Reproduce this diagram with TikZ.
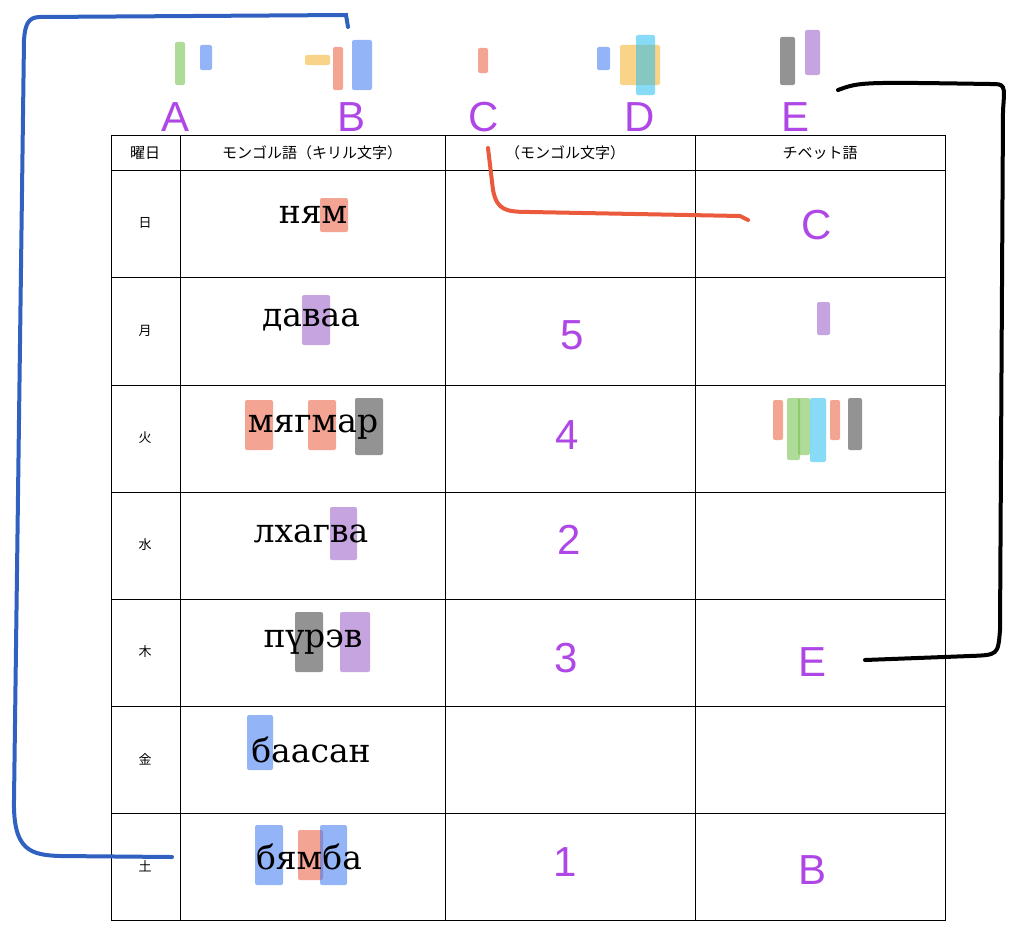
\documentclass[tikz,border=0pt]{standalone}
\usepackage{fontspec}
\setmainfont{DejaVu Serif}
\newfontfamily\jp{Noto Sans CJK JP}
\newfontfamily\hand{Liberation Sans}
\begin{document}
\begin{tikzpicture}[x=1pt,y=-1pt,
  hl/.style={opacity=0.55},
  pl/.style={text=plc,font=\hand\fontsize{42}{42}\selectfont},
  cy/.style={font=\fontsize{33}{33}\selectfont},
  hd/.style={font=\jp\fontsize{15}{15}\selectfont},
  dy/.style={font=\jp\fontsize{13}{13}\selectfont}]
\definecolor{plc}{RGB}{175,70,230}
\useasboundingbox (0,0) rectangle (1024,934);
\fill[white] (0,0) rectangle (1024,934);
\definecolor{hr}{RGB}{235,90,60}\definecolor{hb}{RGB}{60,120,240}
\definecolor{hp}{RGB}{150,90,200}\definecolor{hk}{RGB}{60,60,60}
\definecolor{hg}{RGB}{110,190,70}\definecolor{hc}{RGB}{40,190,240}\definecolor{ho}{RGB}{245,175,40}
% highlights
\foreach \c/\a/\b/\t/\u in {hr/320/348/198/232, hp/302/330/295/345, hr/245/273/400/450, hr/308/336/400/450, hk/355/383/398/455,
 hp/330/357/507/560, hk/295/323/612/672, hp/340/370/612/672, hb/247/273/715/770, hb/255/283/825/885, hr/298/323/830/880, hb/320/347/825/885,
 hp/817/830/302/335, hr/773/783/400/440, hg/787/800/398/460, hg/798/810/398/455, hc/810/826/398/462, hr/830/840/400/440, hk/848/862/398/450,
 hg/175/185/42/85, hb/200/212/45/70, ho/305/330/55/65, hr/333/343/47/90, hb/352/372/40/90, hr/478/488/48/73,
 hb/597/610/47/70, ho/620/660/45/85, hc/636/655/35/95, hk/780/795/37/85, hp/805/820/30/75}
 \fill[\c,hl,rounded corners=2pt] (\a,\t) rectangle (\b,\u);
% table
\draw[line width=0.8pt] (111,135) rectangle (945,920);
\foreach \x in {180,445,695} \draw[line width=0.8pt] (\x,135) -- (\x,920);
\foreach \y in {170,277,385,492,599,706,813} \draw[line width=0.8pt] (111,\y) -- (945,\y);
\node[hd] (h1) at (145,153) {曜日};
\node[hd] (h2) at (312,153) {モンゴル語（キリル文字）};
\node[hd] (h3) at (565,153) {（モンゴル文字）};
\node[hd] (h4) at (820,153) {チベット語};
\foreach \n/\t/\y in {d1/日/223,d2/月/331,d3/火/438,d4/水/545,d5/木/652,d6/金/759,d7/土/866}
  \node[dy] (\n) at (145,\y) {\t};
\node[cy] (m1) at (313,215) {ням};
\node[cy] (m2) at (311,320) {даваа};
\node[cy] (m3) at (313,427) {мягмар};
\node[cy] (m4) at (311,534) {лхагва};
\node[cy] (m5) at (313,642) {пүрэв};
\node[cy] (m6) at (311,750) {баасан};
\node[cy] (m7) at (309,857) {бямба};
% handwritten
\node[pl] (A) at (176,117) {A}; \node[pl] (B) at (352,117) {B};
\node[pl] (C) at (484,117) {C}; \node[pl] (D) at (640,117) {D};
\node[pl] (E) at (795,117) {E};
\node[pl] (n5) at (572,335) {5}; \node[pl] (n4) at (567,435) {4};
\node[pl] (n2) at (569,540) {2}; \node[pl] (n3) at (566,658) {3};
\node[pl] (n1) at (565,862) {1};
\node[pl] (tc) at (817,225) {C}; \node[pl] (te) at (812,662) {E};
\node[pl] (tb) at (812,870) {B};
% strokes
\coordinate (bs) at (348,27); \coordinate (be) at (172,857);
\draw[hb!80!black,line width=4pt,line cap=round] (bs) -- (346,15) -- (40,17) .. controls (28,17) and (25,25) .. (24,40) -- (14,800) .. controls (13,850) and (30,855) .. (60,856) -- (be);
\coordinate (ks) at (838,90); \coordinate (ke) at (865,660);
\draw[black,line width=4pt,line cap=round] (ks) .. controls (860,82) .. (990,84) .. controls (1005,84) .. (1003,110) -- (1000,630) .. controls (998,655) .. (970,656) -- (ke);
\coordinate (rs) at (488,148); \coordinate (re) at (748,220);
\draw[hr,line width=4pt,line cap=round] (rs) -- (493,190) .. controls (497,210) and (505,212) .. (530,212) -- (740,216) -- (re);
\end{tikzpicture}
\end{document}
